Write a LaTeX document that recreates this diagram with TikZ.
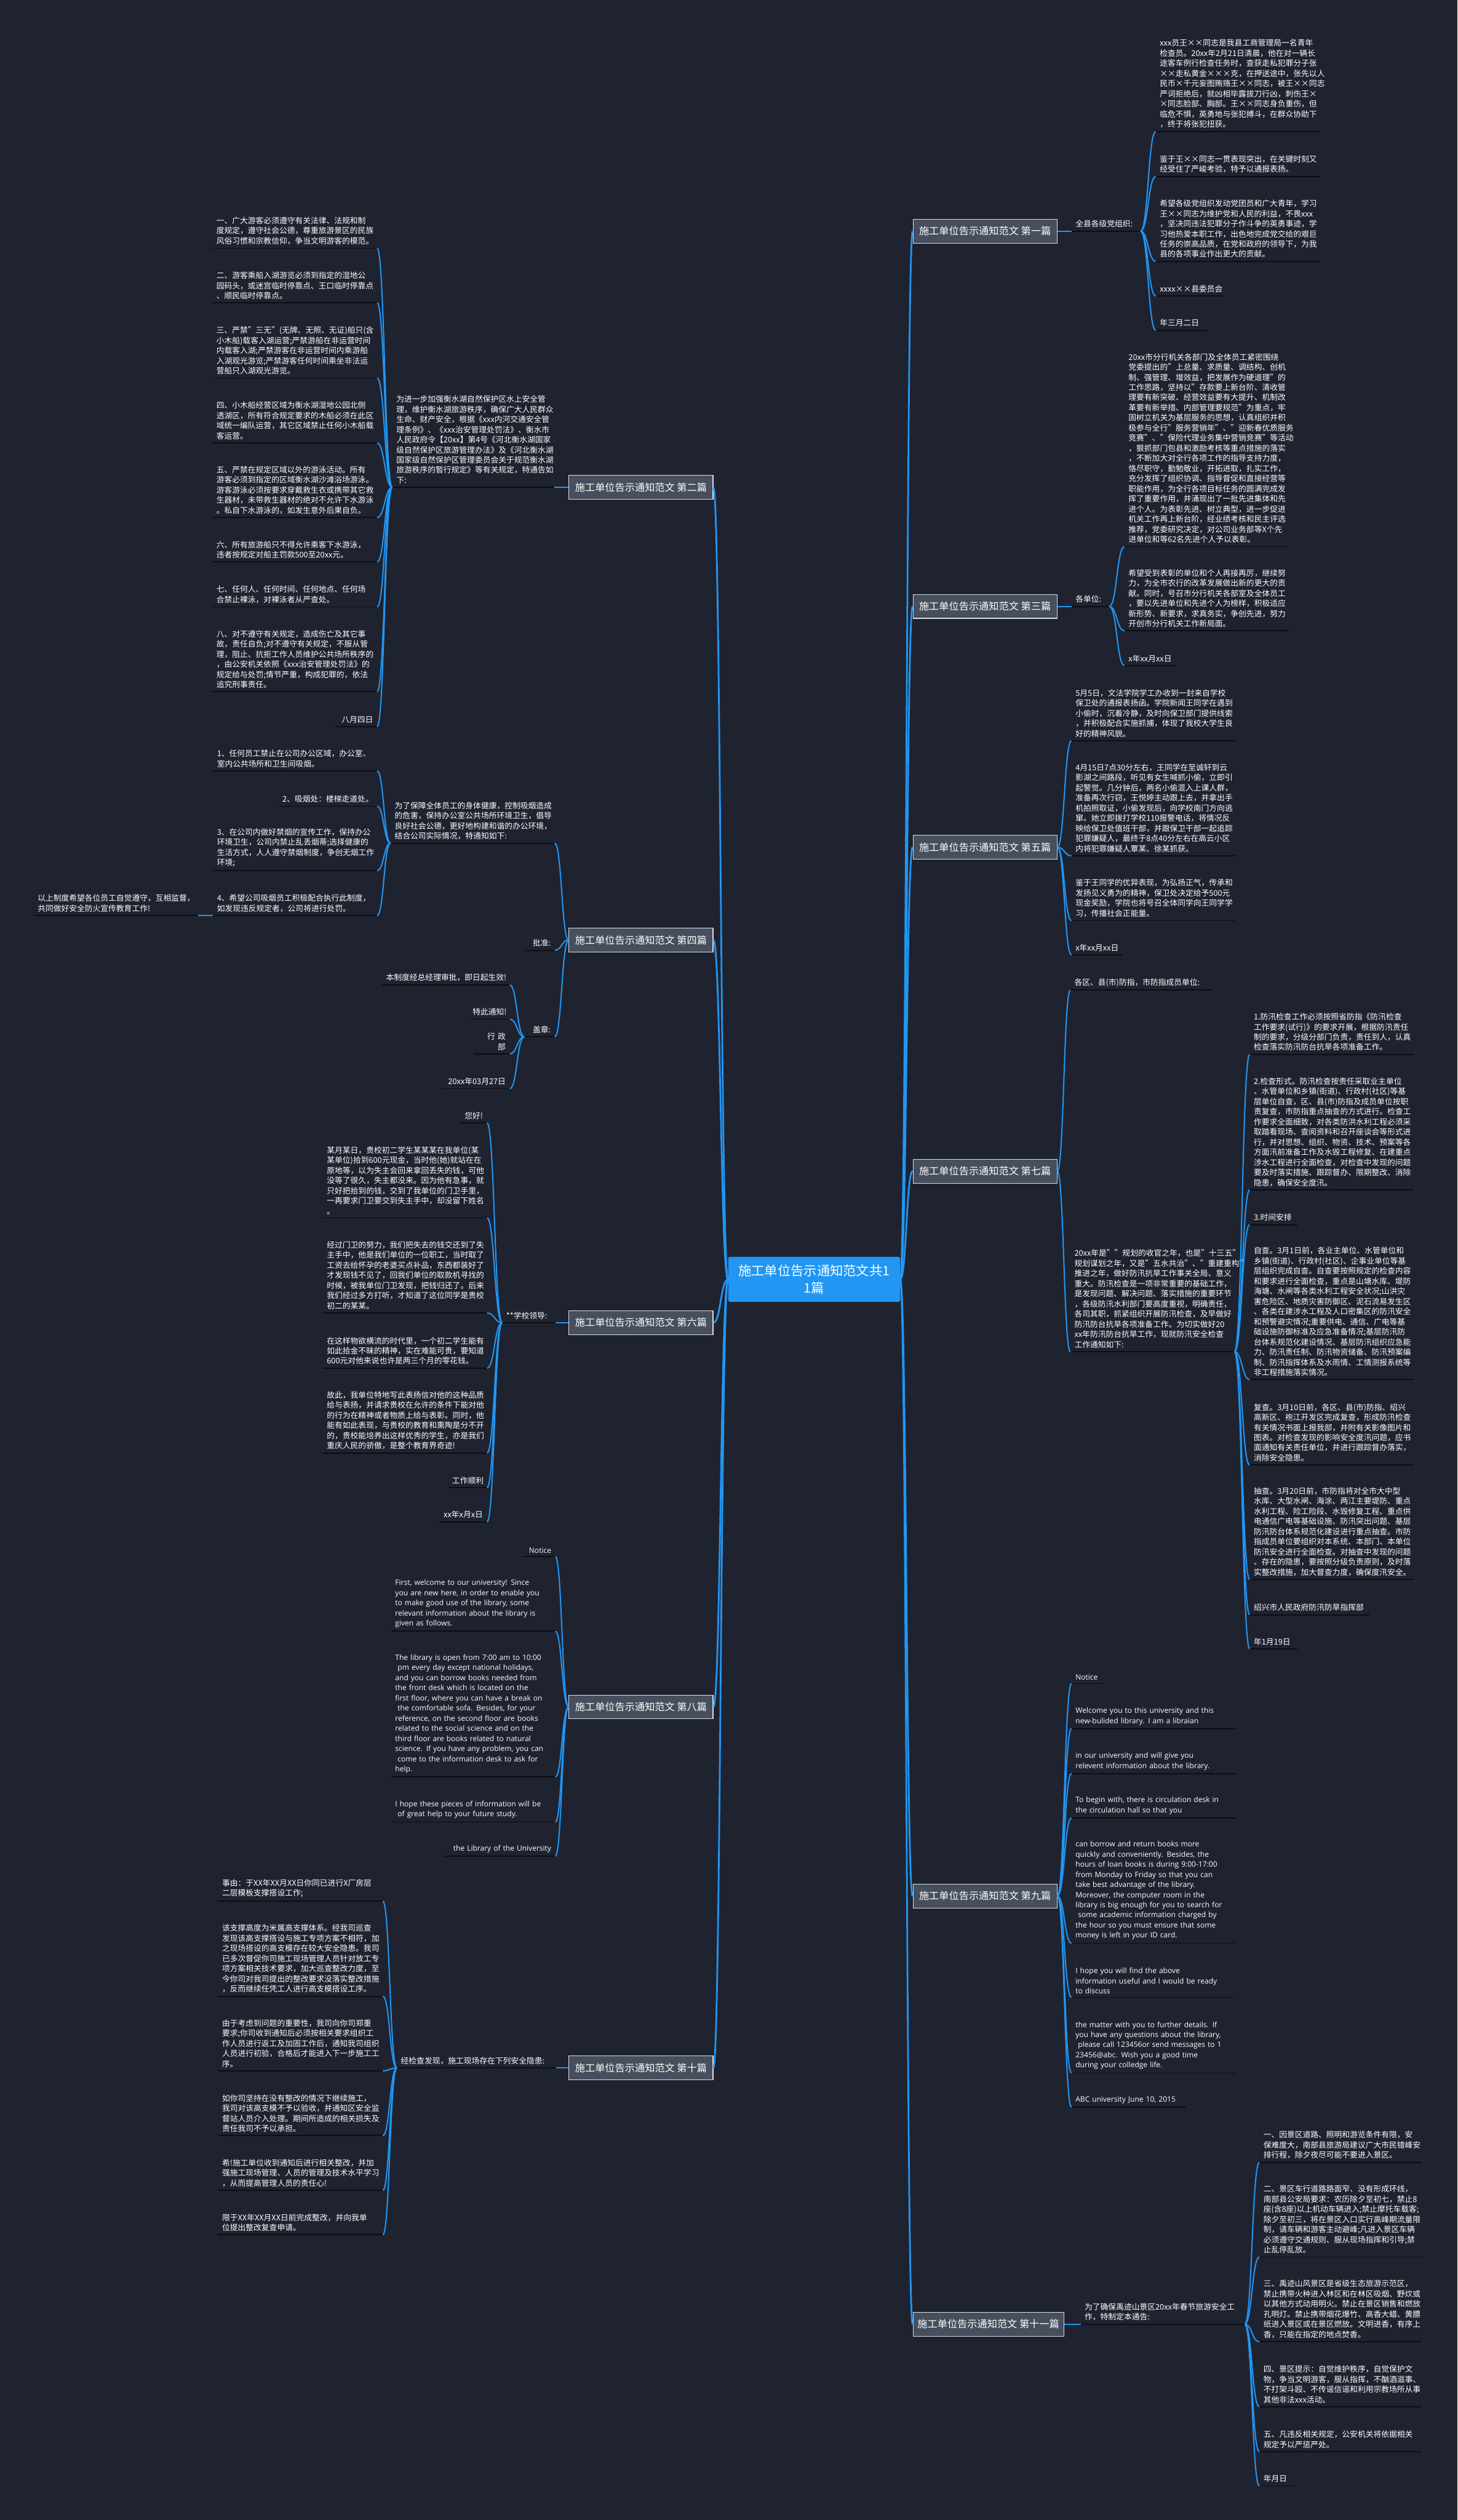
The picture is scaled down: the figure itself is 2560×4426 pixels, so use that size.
\documentclass[tikz,border=0pt]{standalone}
\usepackage{fontspec}
\setmainfont{Noto Sans CJK SC}
\newfontfamily\enfont{Open Sans}
\usetikzlibrary{calc}
\definecolor{bgc}{HTML}{1F2330}
\definecolor{bl}{HTML}{2196F3}
\definecolor{ulc}{HTML}{0C0E13}
\definecolor{tf}{HTML}{474E5E}
\definecolor{tb}{HTML}{DADDE3}
\hfuzz=300pt \hbadness=10000
\tikzset{
 txt/.style={text=white, font=\fontsize{13.8}{17.8}\selectfont, inner xsep=7pt, inner ysep=6pt, anchor=south west},
 etxt/.style={txt, font=\enfont\fontsize{13}{17.8}\selectfont},
 uline/.style={draw=ulc, line width=2pt},
 conn/.style={draw=bl, line width=2.2pt},
 rconn/.style={draw=bl, line width=3pt},
 ttl/.style={draw=tb, fill=tf, line width=1.2pt, text=white, font=\fontsize{17.5}{21}\selectfont, minimum width=253pt, minimum height=42pt, inner xsep=8pt, inner ysep=0pt},
 rootn/.style={fill=bl, text=white, font=\fontsize{23}{30}\selectfont, minimum width=302pt, minimum height=79pt, align=center, rounded corners=3pt},
}
\newcommand\tnode[7][txt]{%
 \pgfmathsetmacro\twd{#5-14}%
 \node[#1,align=#6,text width=\twd pt] (#2) at (#3,#4) {#7};%
 \draw[uline] (#2.south west) -- (#2.south east);}
\newcommand\lnk[3][conn]{\draw[#1] (#2) .. controls ($(#2)!0.5!(#3|-#2)$) and ($(#3)!0.5!(#2|-#3)$) .. (#3);}
\begin{document}
\begin{tikzpicture}[x=1pt,y=-1pt]
\fill[bgc] (0,0) rectangle (2560,4426);
\useasboundingbox (0,0) rectangle (2560,4426);

% root
\node[rootn] (root) at (1430,2247) {施工单位告示通知范文共1\\1篇};

% titles right
\node[ttl,anchor=west] (t1) at (1603,406) {施工单位告示通知范文 第一篇};
\node[ttl,anchor=west] (t3) at (1603,1065) {施工单位告示通知范文 第三篇};
\node[ttl,anchor=west] (t5) at (1603,1488) {施工单位告示通知范文 第五篇};
\node[ttl,anchor=west] (t7) at (1603,2057) {施工单位告示通知范文 第七篇};
\node[ttl,anchor=west] (t9) at (1603,3330) {施工单位告示通知范文 第九篇};
\node[ttl,anchor=west] (t11) at (1603,4082) {施工单位告示通知范文 第十一篇};
% titles left
\node[ttl,anchor=east] (t2) at (1253,856) {施工单位告示通知范文 第二篇};
\node[ttl,anchor=east] (t4) at (1253,1651) {施工单位告示通知范文 第四篇};
\node[ttl,anchor=east] (t6) at (1253,2323) {施工单位告示通知范文 第六篇};
\node[ttl,anchor=east] (t8) at (1253,2998) {施工单位告示通知范文 第八篇};
\node[ttl,anchor=east] (t10) at (1253,3632) {施工单位告示通知范文 第十篇};

\foreach \t in {t1,t3,t5,t7,t9,t11} {\lnk[rconn]{root.east}{\t.west}}
\foreach \t in {t2,t4,t6,t8,t10} {\lnk[rconn]{root.west}{\t.east}}

% ===== 第一篇
\tnode{lab1}{1882}{406}{121}{left}{全县各级党组织:}
\tnode{c1a}{2030}{231}{288}{left}{xxx员王××同志是我县工商管理局一名青年\\检查员。20xx年2月21日清晨，他在对一辆长\\途客车例行检查任务时，查获走私犯罪分子张\\××走私黄金×××克，在押送途中，张先以人\\民币×千元妄图贿赂王××同志，被王××同志\\严词拒绝后，就凶相毕露拔刀行凶，刺伤王×\\×同志脸部、胸部。王××同志身负重伤，但\\临危不惧，英勇地与张犯搏斗，在群众协助下\\，终于将张犯扭获。}
\tnode{c1b}{2030}{310}{288}{left}{鉴于王××同志一贯表现突出，在关键时刻又\\经受住了严峻考验，特予以通报表扬。}
\tnode{c1c}{2030}{459}{288}{left}{希望各级党组织发动党团员和广大青年，学习\\王××同志为维护党和人民的利益，不畏xxx\\，坚决同违法犯罪分子作斗争的英勇事迹，学\\习他热爱本职工作，出色地完成党交给的艰巨\\任务的崇高品质，在党和政府的领导下，为我\\县的各项事业作出更大的贡献。}
\tnode{c1d}{2030}{520}{118}{left}{xxxx××县委员会}
\tnode{c1e}{2030}{580}{90}{left}{年三月二日}
\lnk{t1.east}{lab1.south west}
\foreach \c in {c1a,c1b,c1c,c1d,c1e} {\lnk{lab1.south east}{\c.south west}}

% ===== 第三篇
\tnode{lab3}{1882}{1065}{66}{left}{各单位:}
\tnode{c3a}{1975}{960}{288}{left}{20xx市分行机关各部门及全体员工紧密围绕\\党委提出的"上总量、求质量、调结构、创机\\制、强管理、增效益，把发展作为硬道理"的\\工作思路，坚持以"存款要上新台阶、清收管\\理要有新突破、经营效益要有大提升、机制改\\革要有新举措、内部管理要规范"为重点，牢\\固树立机关为基层服务的思想，认真组织并积\\极参与全行"服务营销年"、"迎新春优质服务\\竞赛"、"保险代理业务集中营销竞赛"等活动\\，狠抓部门包县和激励考核等重点措施的落实\\，不断加大对全行各项工作的指导支持力度，\\恪尽职守，勤勉敬业，开拓进取，扎实工作，\\充分发挥了组织协调、指导督促和直接经营等\\职能作用，为全行各项目标任务的圆满完成发\\挥了重要作用，并涌现出了一批先进集体和先\\进个人。为表彰先进、树立典型，进一步促进\\机关工作再上新台阶，经业绩考核和民主评选\\推荐，党委研究决定，对公司业务部等X个先\\进单位和等62名先进个人予以表彰。}
\tnode{c3b}{1975}{1108}{288}{left}{希望受到表彰的单位和个人再接再厉，继续努\\力，为全市农行的改革发展做出新的更大的贡\\献。同时，号召市分行机关各部室及全体员工\\，要以先进单位和先进个人为榜样，积极适应\\新形势、新要求，求真务实，争创先进，努力\\开创市分行机关工作新局面。}
\tnode{c3c}{1975}{1169}{90}{left}{x年xx月xx日}
\lnk{t3.east}{lab3.south west}
\foreach \c in {c3a,c3b,c3c} {\lnk{lab3.south east}{\c.south west}}

% ===== 第五篇
\tnode{c5a}{1882}{1301}{287}{left}{5月5日，文法学院学工办收到一封来自学校\\保卫处的通报表扬函。学院新闻王同学在遇到\\小偷时，沉着冷静，及时向保卫部门提供线索\\，并积极配合实施抓捕，体现了我校大学生良\\好的精神风貌。}
\tnode{c5b}{1882}{1503}{287}{left}{4月15日7点30分左右，王同学在至诚轩到云\\影湖之间路段，听见有女生喊抓小偷，立即引\\起警觉。几分钟后，两名小偷混入上课人群，\\准备再次行窃，王悦婷主动跟上去，并拿出手\\机拍照取证，小偷发现后，向学校南门方向逃\\窜。她立即拨打学校110报警电话，将情况反\\映给保卫处值班干部，并跟保卫干部一起追踪\\犯罪嫌疑人，最终于8点40分左右在高云小区\\内将犯罪嫌疑人覃某、徐某抓获。}
\tnode{c5c}{1882}{1617}{287}{left}{鉴于王同学的优异表现，为弘扬正气，传承和\\发扬见义勇为的精神，保卫处决定给予500元\\现金奖励，学院也将号召全体同学向王同学学\\习，传播社会正能量。}
\tnode{c5d}{1882}{1677}{88}{left}{x年xx月xx日}
\foreach \c in {c5a,c5b,c5c,c5d} {\lnk{t5.east}{\c.south west}}

% ===== 第七篇
\tnode{lab7a}{1880}{1739}{248}{left}{各区、县(市)防指，市防指成员单位:}
\tnode{lab7b}{1880}{2374}{288}{left}{20xx年是""规划的收官之年，也是"十三五"\\规划谋划之年，又是"五水共治"、"重建重构"\\推进之年，做好防汛抗旱工作事关全局、意义\\重大。防汛检查是一项非常重要的基础工作，\\是发现问题、解决问题、落实措施的重要环节\\，各级防汛水利部门要高度重视，明确责任，\\各司其职，抓紧组织开展防汛检查，及早做好\\防汛防台抗旱各项准备工作。为切实做好20\\xx年防汛防台抗旱工作，现就防汛安全检查\\工作通知如下:}
\tnode{c7a}{2195}{1852}{288}{left}{1.防汛检查工作必须按照省防指《防汛检查\\工作要求(试行)》的要求开展，根据防汛责任\\制的要求，分级分部门负责，责任到人，认真\\检查落实防汛防台抗旱各项准备工作。}
\tnode{c7b}{2195}{2090}{288}{left}{2.检查形式。防汛检查按责任采取业主单位\\、水管单位和乡镇(街道)、行政村(社区)等基\\层单位自查，区、县(市)防指及成员单位按职\\责复查，市防指重点抽查的方式进行。检查工\\作要求全面细致，对各类防洪水利工程必须采\\取踏看现场、查阅资料和召开座谈会等形式进\\行，并对思想、组织、物资、技术、预案等各\\方面汛前准备工作及水毁工程修复、在建重点\\涉水工程进行全面检查，对检查中发现的问题\\要及时落实措施、跟踪督办、限期整改、消除\\隐患，确保安全度汛。}
\tnode{c7c}{2195}{2151}{84}{left}{3.时间安排}
\tnode{c7d}{2195}{2423}{288}{left}{自查。3月1日前，各业主单位、水管单位和\\乡镇(街道)、行政村(社区)、企事业单位等基\\层组织完成自查。自查要按照规定的检查内容\\和要求进行全面检查，重点是山塘水库、堤防\\海塘、水闸等各类水利工程安全状况;山洪灾\\害危险区、地质灾害防御区、泥石流易发生区\\、各类在建涉水工程及人口密集区的防汛安全\\和预警避灾情况;重要供电、通信、广电等基\\础设施防御标准及应急准备情况;基层防汛防\\台体系规范化建设情况、基层防汛组织应急能\\力、防汛责任制、防汛物资储备、防汛预案编\\制、防汛指挥体系及水雨情、工情测报系统等\\非工程措施落实情况。}
\tnode{c7e}{2195}{2573}{288}{left}{复查。3月10日前，各区、县(市)防指、绍兴\\高新区、袍江开发区完成复查，形成防汛检查\\有关情况书面上报我部，并附有关影像图片和\\图表。对检查发现的影响安全度汛问题，应书\\面通知有关责任单位，并进行跟踪督办落实，\\消除安全隐患。}
\tnode{c7f}{2195}{2774}{288}{left}{抽查。3月20日前，市防指将对全市大中型\\水库、大型水闸、海涂、两江主要堤防、重点\\水利工程、险工险段、水毁修复工程、重点供\\电通信广电等基础设施、防汛突出问题、基层\\防汛防台体系规范化建设进行重点抽查。市防\\指成员单位要组织对本系统、本部门、本单位\\防汛安全进行全面检查。对抽查中发现的问题\\、存在的隐患，要按照分级负责原则，及时落\\实整改措施，加大督查力度，确保度汛安全。}
\tnode{c7g}{2195}{2836}{210}{left}{绍兴市人民政府防汛防旱指挥部}
\tnode{c7h}{2195}{2896}{84}{left}{年1月19日}
\lnk{t7.east}{lab7a.south west}
\lnk{t7.east}{lab7b.south west}
\foreach \c in {c7a,c7b,c7c,c7d,c7e,c7f,c7g,c7h} {\lnk{lab7b.south east}{\c.south west}}

% ===== 第九篇
\tnode[etxt]{c9a}{1882}{2957}{56}{left}{\mbox{Notice}}
\tnode[etxt]{c9b}{1882}{3036}{287}{left}{\mbox{Welcome you to this university and this}\\\mbox{new-bulided library. I am a libraian}}
\tnode[etxt]{c9c}{1882}{3115}{287}{left}{\mbox{in our university and will give you}\\\mbox{relevent information about the library.}}
\tnode[etxt]{c9d}{1882}{3193}{287}{left}{\mbox{To begin with, there is circulation desk in}\\\mbox{the circulation hall so that you}}
\tnode[etxt]{c9e}{1882}{3413}{287}{left}{\mbox{can borrow and return books more}\\\mbox{quickly and conveniently. Besides, the}\\\mbox{hours of loan books is during 9:00-17:00}\\\mbox{from Monday to Friday so that you can}\\\mbox{take best advantage of the library.}\\\mbox{Moreover, the computer room in the}\\\mbox{library is big enough for you to search for}\\\mbox{\ some academic information charged by}\\\mbox{the hour so you must ensure that some}\\\mbox{money is left in your ID card.}}
\tnode[etxt]{c9f}{1882}{3508}{287}{left}{\mbox{I hope you will find the above}\\\mbox{information useful and I would be ready}\\\mbox{to discuss}}
\tnode[etxt]{c9g}{1882}{3641}{287}{left}{\mbox{the matter with you to further details. If}\\\mbox{you have any questions about the library,}\\\mbox{\ please call 123456or send messages to 1}\\\mbox{23456@abc. Wish you a good time}\\\mbox{during your colledge life.}}
\tnode[etxt]{c9h}{1882}{3701}{201}{left}{\mbox{ABC university June 10, 2015}}
\foreach \c in {c9a,c9b,c9c,c9d,c9e,c9f,c9g,c9h} {\lnk{t9.east}{\c.south west}}

% ===== 第十一篇
\tnode{lab11}{1898}{4082}{288}{left}{为了确保禹迹山景区20xx年春节旅游安全工\\作，特制定本通告:}
\tnode{c11a}{2212}{3798}{285}{left}{一、因景区道路、照明和游览条件有限，安\\保难度大，南部县旅游局建议广大市民错峰安\\排行程，除夕夜尽可能不要进入景区。}
\tnode{c11b}{2212}{3964}{285}{left}{二、景区车行道路路面窄、没有形成环线，\\南部县公安局要求：农历除夕至初七，禁止8\\座(含8座)以上机动车辆进入;禁止摩托车载客;\\除夕至初三，将在景区入口实行高峰期流量限\\制，请车辆和游客主动避峰;凡进入景区车辆\\必须遵守交通规则、服从现场指挥和引导;禁\\止乱停乱放。}
\tnode{c11c}{2212}{4113}{285}{left}{三、禹迹山风景区是省级生态旅游示范区，\\禁止携带火种进入林区和在林区吸烟、野炊或\\以其他方式动用明火。禁止在景区销售和燃放\\孔明灯。禁止携带烟花爆竹、高香大蜡、黄膘\\纸进入景区或在景区燃放。文明进香，有序上\\香，只能在指定的地点焚香。}
\tnode{c11d}{2212}{4227}{285}{left}{四、景区提示：自觉维护秩序，自觉保护文\\物，争当文明游客，服从指挥，不酗酒滋事、\\不打架斗殴、不传谣信谣和利用宗教场所从事\\其他非法xxx活动。}
\tnode{c11e}{2212}{4306}{285}{left}{五、凡违反相关规定，公安机关将依据相关\\规定予以严惩严处。}
\tnode{c11f}{2212}{4366}{59}{left}{年月日}
\lnk{t11.east}{lab11.south west}
\foreach \c in {c11a,c11b,c11c,c11d,c11e,c11f} {\lnk{lab11.south east}{\c.south west}}

% ===== 第二篇
\tnode{lab2}{689}{856}{284}{left}{为进一步加强衡水湖自然保护区水上安全管\\理，维护衡水湖旅游秩序，确保广大人民群众\\生命、财产安全，根据《xxx内河交通安全管\\理条例》、《xxx治安管理处罚法》、衡水市\\人民政府令【20xx】第4号《河北衡水湖国家\\级自然保护区旅游管理办法》及《河北衡水湖\\国家级自然保护区管理委员会关于规范衡水湖\\旅游秩序的暂行规定》等有关规定，特通告如\\下:}
\tnode{c2a}{373}{436}{289}{left}{一、广大游客必须遵守有关法律、法规和制\\度规定，遵守社会公德，尊重旅游景区的民族\\风俗习惯和宗教信仰，争当文明游客的模范。}
\tnode{c2b}{373}{532}{289}{left}{二、游客乘船入湖游览必须到指定的湿地公\\园码头，或迷宫临时停靠点、王口临时停靠点\\、顺民临时停靠点。}
\tnode{c2c}{373}{664}{289}{left}{三、严禁"三无"(无牌、无照、无证)船只(含\\小木船)载客入湖运营;严禁游船在非运营时间\\内载客入湖;严禁游客在非运营时间内乘游船\\入湖观光游览;严禁游客任何时间乘坐非法运\\营船只入湖观光游览。}
\tnode{c2d}{373}{778}{289}{left}{四、小木船经营区域为衡水湖湿地公园北侧\\透湖区，所有符合规定要求的木船必须在此区\\域统一编队运营，其它区域禁止任何小木船载\\客运营。}
\tnode{c2e}{373}{909}{289}{left}{五、严禁在规定区域以外的游泳活动。所有\\游客必须到指定的区域衡水湖沙滩浴场游泳。\\游客游泳必须按要求穿戴救生衣或携带其它救\\生器材，未带救生器材的绝对不允许下水游泳\\。私自下水游泳的，如发生意外后果自负。}
\tnode{c2f}{373}{987}{289}{left}{六、所有旅游船只不得允许乘客下水游泳，\\违者按规定对船主罚款500至20xx元。}
\tnode{c2g}{373}{1066}{289}{left}{七、任何人、任何时间、任何地点、任何场\\合禁止裸泳，对裸泳者从严查处。}
\tnode{c2h}{373}{1215}{289}{left}{八、对不遵守有关规定，造成伤亡及其它事\\故，责任自负;对不遵守有关规定，不服从管\\理，阻止、抗拒工作人员维护公共场所秩序的\\，由公安机关依照《xxx治安管理处罚法》的\\规定给与处罚;情节严重，构成犯罪的，依法\\追究刑事责任。}
\tnode{c2i}{589}{1276}{73}{right}{八月四日}
\lnk{t2.west}{lab2.south east}
\foreach \c in {c2a,c2b,c2c,c2d,c2e,c2f,c2g,c2h,c2i} {\lnk{lab2.south west}{\c.south east}}

% ===== 第四篇
\tnode{lab4}{686}{1481}{288}{left}{为了保障全体员工的身体健康，控制吸烟造成\\的危害，保持办公室公共场所环境卫生，倡导\\良好社会公德，更好地构建和谐的办公环境，\\结合公司实际情况，特通知如下:}
\tnode{c4a}{374}{1354}{288}{left}{1、任何员工禁止在公司办公区域，办公室、\\室内公共场所和卫生间吸烟。}
\tnode{c4b}{489}{1416}{173}{right}{2、吸烟处：楼梯走道处。}
\tnode{c4c}{374}{1529}{288}{left}{3、在公司内做好禁烟的宣传工作，保持办公\\环境卫生，公司内禁止乱丢烟蒂;选择健康的\\生活方式，人人遵守禁烟制度，争创无烟工作\\环境;}
\tnode{c4d}{374}{1608}{288}{left}{4、希望公司吸烟员工积极配合执行此制度，\\如发现违反规定者，公司将进行处罚。}
\tnode{c4e}{59}{1608}{288}{left}{以上制度希望各位员工自觉遵守，互相监督，\\共同做好安全防火宣传教育工作!}
\tnode{pz}{921}{1669}{53}{right}{批准:}
\tnode{gz}{921}{1821}{53}{right}{盖章:}
\tnode{g1}{671}{1730}{224}{right}{本制度经总经理审批，即日起生效!}
\tnode{g2}{823}{1790}{72}{right}{特此通知!}
\tnode{g3}{832}{1851}{63}{right}{行 政 部}
\tnode{g4}{777}{1912}{118}{right}{20xx年03月27日}
\lnk{t4.west}{lab4.south east}
\lnk{t4.west}{pz.south east}
\lnk{t4.west}{gz.south east}
\foreach \c in {c4a,c4b,c4c,c4d} {\lnk{lab4.south west}{\c.south east}}
\lnk{c4d.south west}{c4e.south east}
\foreach \c in {g1,g2,g3,g4} {\lnk{gz.south west}{\c.south east}}

% ===== 第六篇
\tnode{lab6}{882}{2323}{93}{left}{**学校领导:}
\tnode{c6a}{809}{1972}{46}{right}{您好!}
\tnode{c6b}{567}{2139}{288}{left}{某月某日，贵校初二学生某某某在我单位(某\\某单位)拾到600元现金，当时他(她)就站在在\\原地等，以为失主会回来拿回丢失的钱，可他\\没等了很久，失主都没来。因为他有急事，就\\只好把拾到的钱，交到了我单位的门卫手里，\\一再要求门卫要交到失主手中，却没留下姓名\\。}
\tnode{c6c}{567}{2306}{288}{left}{经过门卫的努力，我们把失去的钱交还到了失\\主手中，他是我们单位的一位职工，当时取了\\工资去给怀孕的老婆买点补品，东西都装好了\\才发现钱不见了，回我们单位的取款机寻找的\\时候，被我单位门卫发现，把钱归还了。后来\\我们经过多方打听，才知道了这位同学是贵校\\初二的某某。}
\tnode{c6d}{567}{2403}{288}{left}{在这样物欲横流的时代里，一个初二学生能有\\如此拾金不昧的精神，实在难能可贵，要知道\\600元对他来说也许是两三个月的零花钱。}
\tnode{c6e}{567}{2552}{288}{left}{故此，我单位特地写此表扬信对他的这种品质\\给与表扬，并请求贵校在允许的条件下能对他\\的行为在精神或者物质上给与表彰。同时，他\\能有如此表现，与贵校的教育和熏陶是分不开\\的，贵校能培养出这样优秀的学生，亦是我们\\重庆人民的骄傲，是整个教育界奇迹!}
\tnode{c6f}{787}{2613}{68}{right}{工作顺利}
\tnode{c6g}{772}{2673}{83}{right}{xx年x月x日}
\lnk{t6.west}{lab6.south east}
\foreach \c in {c6a,c6b,c6c,c6d,c6e,c6f,c6g} {\lnk{lab6.south west}{\c.south east}}

% ===== 第八篇
\tnode[etxt]{c8a}{918}{2734}{57}{right}{\mbox{Notice}}
\tnode[etxt]{c8b}{687}{2865}{288}{left}{\mbox{First, welcome to our university! Since}\\\mbox{you are new here, in order to enable you}\\\mbox{to make good use of the library, some}\\\mbox{relevant information about the library is}\\\mbox{given as follows.}}
\tnode[etxt]{c8c}{687}{3121}{288}{left}{\mbox{The library is open from 7:00 am to 10:00}\\\mbox{\ pm every day except national holidays,}\\\mbox{and you can borrow books needed from}\\\mbox{the front desk which is located on the}\\\mbox{first floor, where you can have a break on}\\\mbox{\ the comfortable sofa. Besides, for your}\\\mbox{reference, on the second floor are books}\\\mbox{related to the social science and on the}\\\mbox{third floor are books related to natural}\\\mbox{science. If you have any problem, you can}\\\mbox{\ come to the information desk to ask for}\\\mbox{help.}}
\tnode[etxt]{c8d}{687}{3200}{288}{left}{\mbox{I hope these pieces of information will be}\\\mbox{\ of great help to your future study.}}
\tnode[etxt]{c8e}{780}{3260}{195}{right}{\mbox{the Library of the University}}
\foreach \c in {c8a,c8b,c8c,c8d,c8e} {\lnk{t8.west}{\c.south east}}

% ===== 第十篇
\tnode{lab10}{697}{3632}{279}{left}{经检查发现，施工现场存在下列安全隐患:}
\tnode{c10a}{383}{3339}{289}{left}{事由：于XX年XX月XX日你同已进行X厂房层\\二层模板支撑搭设工作;}
\tnode{c10b}{383}{3506}{289}{left}{该支撑高度为米属高支撑体系。经我司巡查\\发现该高支撑搭设与施工专项方案不相符，加\\之现场搭设的高支模存在较大安全隐患。我司\\已多次督促你司施工现场管理人员针对放工专\\项方案相关技术要求，加大巡查整改力度，至\\今你司对我司提出的整改要求没落实整改措施\\，反而继续任凭工人进行高支模搭设工序。}
\tnode{c10c}{383}{3637}{289}{left}{由于考虑到问题的重要性，我司向你司郑重\\要求;你司收到通知后必须按相关要求组织工\\作人员进行返工及加固工作后，通知我司组织\\人员进行初验，合格后才能进入下一步施工工\\序。}
\tnode{c10d}{383}{3751}{289}{left}{如你司坚持在没有整改的情况下继续施工，\\我司对该高支模不予以验收，并通知区安全监\\督站人员介入处理。期间所造成的相关损失及\\责任我司不予以承担。}
\tnode{c10e}{383}{3847}{289}{left}{希!施工单位收到通知后进行相关整改，并加\\强施工现场管理、人员的管理及技术水平学习\\，从而提高管理人员的责任心!}
\tnode{c10f}{383}{3925}{289}{left}{限于XX年XX月XX日前完成整改，并向我单\\位提出整改复查申请。}
\lnk{t10.west}{lab10.south east}
\foreach \c in {c10a,c10b,c10c,c10d,c10e,c10f} {\lnk{lab10.south west}{\c.south east}}
\end{tikzpicture}
\end{document}
